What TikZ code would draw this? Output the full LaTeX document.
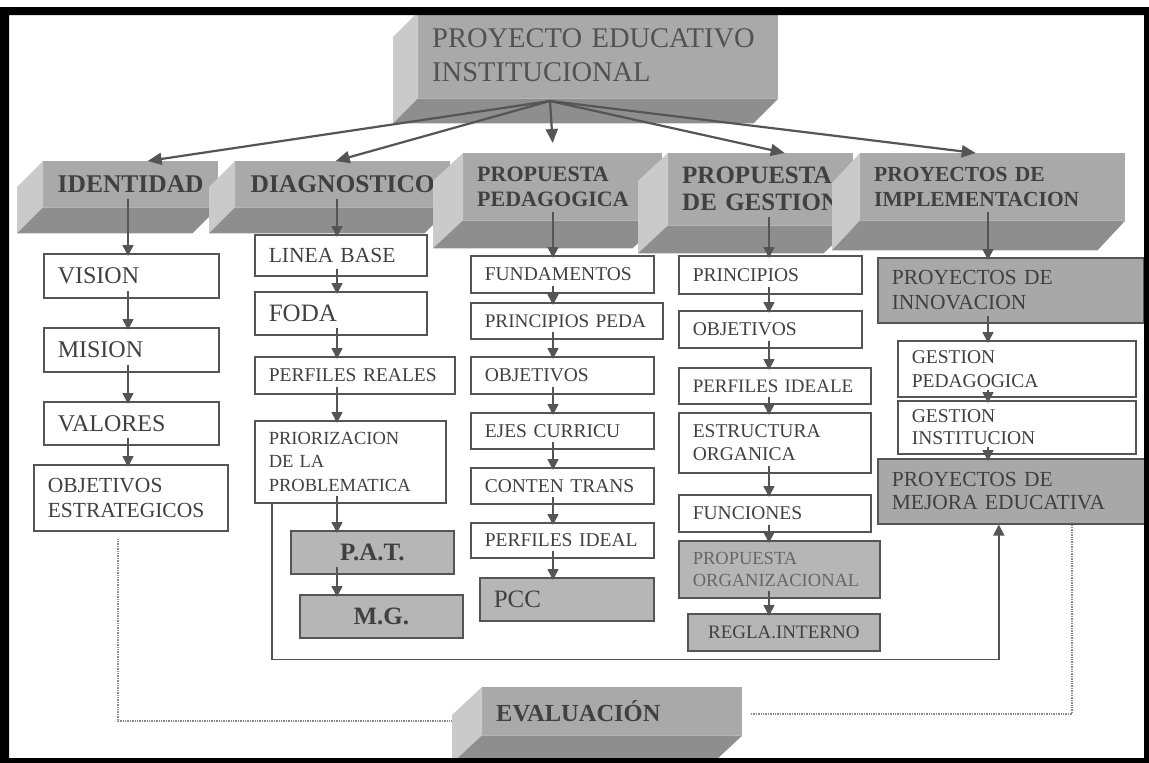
\documentclass[tikz,border=0pt]{standalone}
\usepackage{fontspec}
\setmainfont{Liberation Serif}
\usetikzlibrary{arrows.meta,positioning}

\definecolor{linegray}{HTML}{555555}
\definecolor{txtgray}{HTML}{404040}
\definecolor{frontgray}{HTML}{A9A9A9}
\definecolor{sidegray}{HTML}{CACACA}
\definecolor{bottomgray}{HTML}{8E8E8E}
\definecolor{boxgray}{HTML}{B6B6B6}
\definecolor{darkbox}{HTML}{A8A8A8}
\definecolor{dotgray}{HTML}{8A8A8A}

% left and bottom faces of a 3D block: node, dx, dy
\newcommand{\cubedepth}[3]{%
  \fill[sidegray] (#1.north west) -- (#1.south west) -- ([shift={(-#2,#3)}]#1.south west) -- ([shift={(-#2,#3)}]#1.north west) -- cycle;
  \fill[bottomgray] (#1.south west) -- (#1.south east) -- ([shift={(-#2,#3)}]#1.south east) -- ([shift={(-#2,#3)}]#1.south west) -- cycle;
}

\begin{document}
\begin{tikzpicture}[x=1pt, y=-1pt,
    wbox/.style={draw=linegray, line width=1.6pt, fill=white, text=txtgray, anchor=north west, align=left, inner xsep=14pt, inner ysep=0pt, font=\fontsize{19.5}{23.5}\selectfont},
    gbox/.style={wbox, fill=boxgray},
    cube/.style={fill=frontgray, text=txtgray, anchor=north west, align=left, inner xsep=14pt, inner ysep=0pt, font=\bfseries\fontsize{25}{27}\selectfont},
    wh/.style 2 args={minimum width=#1pt, minimum height=#2pt, text width=#1pt-28pt},
    whc/.style 2 args={minimum width=#1pt, minimum height=#2pt},
    arr/.style={draw=linegray, line width=1.6pt, -{Triangle[length=11pt, width=11pt]}},
    bigarr/.style={draw=linegray, line width=2.2pt, -{Triangle[length=14pt, width=12pt]}},
    dotline/.style={draw=dotgray, line width=1.4pt, densely dotted}
]
    \fill[white] (0,0) rectangle (1149,763);
    \useasboundingbox (0,0) rectangle (1149,763);

    \coordinate (hub) at (550,101);
    \coordinate (c1) at (128,0);
    \coordinate (c2) at (337,0);
    \coordinate (c3) at (553,0);
    \coordinate (c4) at (769,0);
    \coordinate (c5) at (988,0);

    % blocks
    \node[cube, wh={360}{86}, text=black!68, font=\fontsize{28.5}{34}\selectfont] (pei) at (418,12) {PROYECTO EDUCATIVO\\INSTITUCIONAL};
    \cubedepth{pei}{25}{25}
    \node[cube, whc={175}{46}, font=\bfseries\fontsize{25.5}{28}\selectfont] (ident) at (43,161) {IDENTIDAD};
    \cubedepth{ident}{26}{26}
    \node[cube, whc={215}{46}, font=\bfseries\fontsize{25.5}{28}\selectfont] (diag) at (235,161) {DIAGNOSTICO};
    \cubedepth{diag}{26}{26}
    \node[cube, wh={199}{67}, font=\bfseries\fontsize{22}{25}\selectfont] (ped) at (463,153) {PROPUESTA\\PEDAGOGICA};
    \cubedepth{ped}{30}{28}
    \node[cube, wh={185}{72}] (gest) at (668,153) {PROPUESTA\\DE GESTION};
    \cubedepth{gest}{30}{28}
    \node[cube, wh={265}{67}, font=\bfseries\fontsize{21.5}{25}\selectfont] (impl) at (860,153) {PROYECTOS DE\\IMPLEMENTACION};
    \cubedepth{impl}{28}{30}

    % identidad
    \node[wbox, wh={175}{44}, font=\fontsize{24}{28}\selectfont] (vision) at (43,253) {VISION};
    \node[wbox, wh={175}{44}, font=\fontsize{24}{28}\selectfont] (mision) at (43,327) {MISION};
    \node[wbox, wh={175}{43}, font=\fontsize{24}{28}\selectfont] (valores) at (43,401) {VALORES};
    \node[wbox, wh={194}{66}, font=\fontsize{21.5}{25}\selectfont] (objest) at (33,464) {OBJETIVOS\\ESTRATEGICOS};

    % diagnostico
    \node[wbox, wh={172}{41}, font=\fontsize{21.5}{25}\selectfont] (lineab) at (254,234) {LINEA BASE};
    \node[wbox, wh={172}{43}, font=\fontsize{25}{28}\selectfont] (foda) at (254,291) {FODA};
    \node[wbox, wh={200}{37}] (perfr) at (254,356) {PERFILES REALES};
    \node[wbox, wh={191}{82}, font=\fontsize{18.5}{23.5}\selectfont] (prior) at (254,420) {PRIORIZACION\\DE LA\\PROBLEMATICA};
    \node[gbox, whc={163}{43}, font=\bfseries\fontsize{25}{28}\selectfont] (pat) at (290,530) {P.A.T.};
    \node[gbox, whc={163}{43}, font=\bfseries\fontsize{25}{28}\selectfont] (mg) at (299,594) {M.G.};

    % propuesta pedagogica
    \node[wbox, wh={183}{37}] (fund) at (470,255) {FUNDAMENTOS};
    \node[wbox, wh={192}{36}, font=\fontsize{19.2}{23}\selectfont] (ppeda) at (470,302) {PRINCIPIOS PEDA};
    \node[wbox, wh={183}{37}] (obj3) at (470,356) {OBJETIVOS};
    \node[wbox, wh={183}{36}] (ejes) at (470,412) {EJES CURRICU};
    \node[wbox, wh={183}{36}] (conten) at (470,467) {CONTEN TRANS};
    \node[wbox, wh={183}{35}] (perfi) at (470,522) {PERFILES IDEAL};
    \node[gbox, wh={174}{43}, font=\fontsize{25}{28}\selectfont] (pcc) at (479,577) {PCC};

    % propuesta de gestion
    \node[wbox, wh={183}{38}] (princ) at (678,255) {PRINCIPIOS};
    \node[wbox, wh={183}{37}] (obj4) at (678,310) {OBJETIVOS};
    \node[wbox, wh={192}{36}, font=\fontsize{19}{23}\selectfont] (perfie) at (678,367) {PERFILES IDEALE};
    \node[wbox, wh={192}{60}, font=\fontsize{19.5}{23}\selectfont] (estr) at (678,412) {ESTRUCTURA\\ORGANICA};
    \node[wbox, wh={192}{37}] (func) at (678,494) {FUNCIONES};
    \node[gbox, wh={201}{57}, text=black!60, font=\fontsize{18.5}{22}\selectfont] (porg) at (678,540) {PROPUESTA\\ORGANIZACIONAL};
    \node[gbox, whc={192}{37}, font=\fontsize{19}{22}\selectfont] (regla) at (687,613) {REGLA.INTERNO};

    % proyectos de implementacion
    \node[gbox, wh={266}{65}, fill=darkbox, font=\fontsize{21.5}{25}\selectfont] (innov) at (877,257) {PROYECTOS DE\\INNOVACION};
    \node[wbox, wh={238}{56}, font=\fontsize{19.5}{24}\selectfont] (gped) at (897,340) {GESTION\\PEDAGOGICA};
    \node[wbox, wh={238}{53}, font=\fontsize{19.5}{22}\selectfont] (ginst) at (897,400) {GESTION\\INSTITUCION};
    \node[gbox, wh={268}{65}, fill=darkbox, font=\fontsize{21.5}{23}\selectfont] (mejora) at (877,458) {PROYECTOS DE\\MEJORA EDUCATIVA};

    % feedback and evaluation links
    \draw[arr] ([xshift=18pt]prior.south west) -- ++(0,156) -| ([xshift=-13pt]mejora.south);
    \draw[dotline] ([shift={(-13,7)}]objest.south) |- (462,721) coordinate (evl);
    \draw[dotline] ([xshift=60pt]mejora.south) |- (750,714) coordinate (evr);

    \node[cube, wh={260}{48}, font=\bfseries\fontsize{24.5}{27}\selectfont] (eval) at (482,687) {EVALUACIÓN};
    \cubedepth{eval}{30}{28}

    % arrows down the columns
    \foreach \a/\b/\c in {ident/vision/c1, vision/mision/c1, mision/valores/c1, valores/objest/c1,
        diag/lineab/c2, lineab/foda/c2, foda/perfr/c2, perfr/prior/c2, prior/pat/c2, pat/mg/c2,
        ped/fund/c3, fund/ppeda/c3, ppeda/obj3/c3, obj3/ejes/c3, ejes/conten/c3, conten/perfi/c3, perfi/pcc/c3,
        gest/princ/c4, princ/obj4/c4, obj4/perfie/c4, perfie/estr/c4, estr/func/c4, func/porg/c4, porg/regla/c4,
        impl/innov/c5, innov/gped/c5, gped/ginst/c5, ginst/mejora/c5}
        \draw[arr] ([yshift=8pt]\a.south -| \c) -- ([yshift=-3pt]\b.north -| \c);

    % arrows from the top block
    \draw[bigarr] (hub) -- ([xshift=17pt]ident.north);
    \draw[bigarr] (hub) -- ([xshift=-7pt]diag.north);
    \draw[bigarr] (hub) -- ([shift={(-10,-10)}]ped.north);
    \draw[bigarr] (hub) -- ([xshift=24pt]gest.north);
    \draw[bigarr] (hub) -- ([xshift=-17pt]impl.north);

    % frame
    \fill[black, even odd rule] (0,7) rectangle (1149,763) (9,15) rectangle (1144,758);
\end{tikzpicture}
\end{document}
